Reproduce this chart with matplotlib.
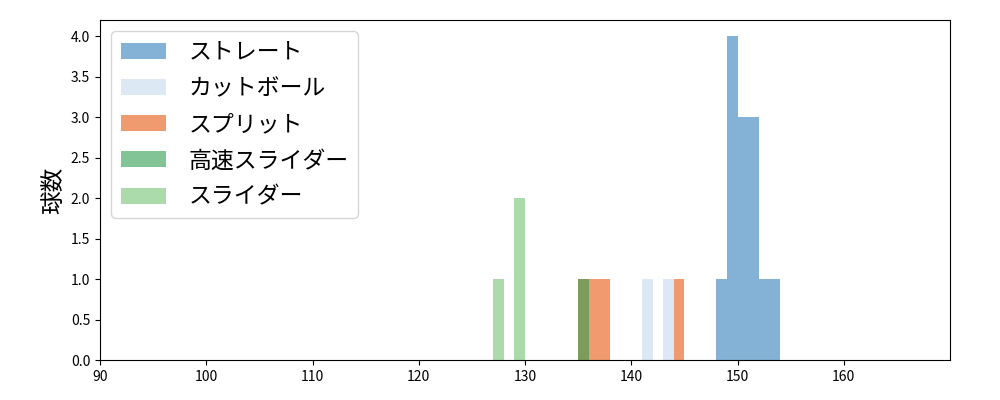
import numpy as np
import matplotlib.pyplot as plt

plt.rcParams['font.family'] = ['Noto Sans CJK JP', 'DejaVu Sans']

# 球種ごとの球速 (km/h)
pitch_names = ['ストレート', 'カットボール', 'スプリット', '高速スライダー', 'スライダー']
straight = [148.5, 149.5, 149.5, 149.5, 149.5, 150.5, 150.5, 150.5,
            151.5, 151.5, 151.5, 152.5, 153.5]
cutter = [141.5, 143.5]
split = [135.5, 136.5, 137.5, 144.5]
fast_slider = [135.5]
slider = [127.5, 129.5, 129.5]
colors = ['#327fbb', '#c5d9ed', '#e6580f', '#2f9e4e', '#75c373']

bins = np.arange(90, 171, 1)

fig, ax = plt.subplots(figsize=(10, 4), dpi=100)
for name, speeds, c in zip(pitch_names, [straight, cutter, split, fast_slider, slider], colors):
    ax.hist(speeds, bins=bins, color=c, alpha=0.6, label=name)

ax.set_xlim(90, 170)
ax.set_xticks(np.arange(90, 161, 10))
ax.set_yticks(np.arange(0, 4.01, 0.5))
ax.set_ylabel('球数', fontsize=17)
ax.legend(loc='upper left', fontsize=16.5, labelspacing=0.58, handletextpad=0.97)
fig.subplots_adjust(left=0.1, right=0.95, top=0.95, bottom=0.1)
fig.savefig('out.png')
